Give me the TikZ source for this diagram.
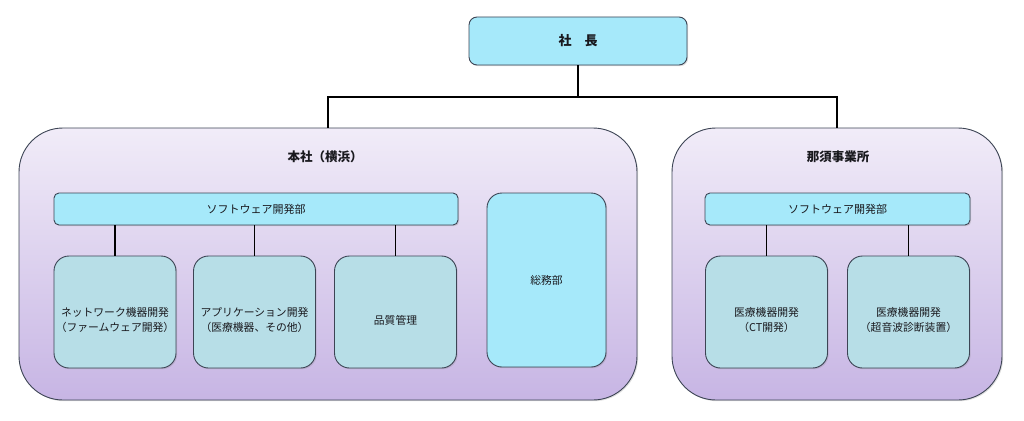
\documentclass[tikz,border=0pt]{standalone}
\usepackage{fontspec}
\newfontfamily\cjk{Noto Sans CJK JP}
\usetikzlibrary{shadows}
\definecolor{cyanfill}{RGB}{166,233,250}
\definecolor{tealfill}{RGB}{183,222,231}
\definecolor{edge}{RGB}{60,68,84}
\definecolor{purtop}{RGB}{241,236,248}
\definecolor{purbot}{RGB}{199,181,228}
\definecolor{txt}{RGB}{25,25,30}
\tikzset{
  base/.style={draw=edge, line width=0.9pt, inner sep=0pt, align=center, text=txt, font=\cjk,
    drop shadow={opacity=0.25, shadow xshift=1.2pt, shadow yshift=-1.2pt}},
  bigbox/.style={base, rounded corners=44pt, top color=purtop, bottom color=purbot},
  presbox/.style={base, fill=cyanfill, rounded corners=8pt, minimum width=218pt, minimum height=48pt, font=\cjk\bfseries\fontsize{13}{15}\selectfont},
  barbox/.style={base, fill=cyanfill, rounded corners=5pt, minimum height=32pt, font=\cjk\fontsize{11}{13}\selectfont},
  unitbox/.style={base, fill=tealfill, rounded corners=15pt, minimum width=122pt, minimum height=112pt},
  unittext/.style={align=center, text=txt, inner sep=0pt, yshift=-8pt, font=\cjk\fontsize{10.8}{14.5}\selectfont},
  title/.style={font=\cjk\bfseries\fontsize{12.5}{15}\selectfont, text=txt, inner sep=0pt},
  conn/.style={draw=black, line width=1.2pt}
}
\begin{document}
\begin{tikzpicture}[x=1pt,y=-1pt]
\useasboundingbox (0,0) rectangle (1024,420);
% top
\node[presbox] (pres) at (578,41) {社　長};
% big boxes
\node[bigbox, minimum width=618pt, minimum height=272pt] (hq) at (328,264) {};
\node[bigbox, minimum width=330pt, minimum height=272pt] (nasu) at (837,264) {};
\node[title] (hqt) at (325,157) {本社（横浜）};
\node[title] (nasut) at (838,157) {那須事業所};
% connectors top
\coordinate (j) at (578,97);
\draw[conn] (pres.south) -- (j);
\draw[conn] (hq.north) |- (j);
\draw[conn] (j) -| (nasu.north);
% HQ
\node[barbox, minimum width=404pt] (hqbar) at (256,209) {ソフトウェア開発部};
\node[unitbox, label={[unittext]center:{ネットワーク機器開発\\（ファームウェア開発）}}] (u1) at (115,312) {};
\node[unitbox, label={[unittext]center:{アプリケーション開発\\（医療機器、その他）}}] (u2) at (254.5,312) {};
\node[unitbox, label={[unittext]center:{品質管理}}] (u3) at (395.5,312) {};
\node[base, fill=cyanfill, rounded corners=15pt, minimum width=119pt, minimum height=174pt, font=\cjk\fontsize{10.8}{13}\selectfont] (soumu) at (546.5,280) {総務部};
\draw[conn] (u1.north) -- (u1.north |- hqbar.south);
\draw[conn] (u2.north) -- (u2.north |- hqbar.south);
\draw[conn] (u3.north) -- (u3.north |- hqbar.south);
% Nasu
\node[barbox, minimum width=265pt] (nbar) at (837.5,209) {ソフトウェア開発部};
\node[unitbox, label={[unittext]center:{医療機器開発\\（CT開発）}}] (n1) at (766.5,312) {};
\node[unitbox, label={[unittext]center:{医療機器開発\\（超音波診断装置）}}] (n2) at (908.5,312) {};
\draw[conn] (n1.north) -- (n1.north |- nbar.south);
\draw[conn] (n2.north) -- (n2.north |- nbar.south);
\end{tikzpicture}
\end{document}
